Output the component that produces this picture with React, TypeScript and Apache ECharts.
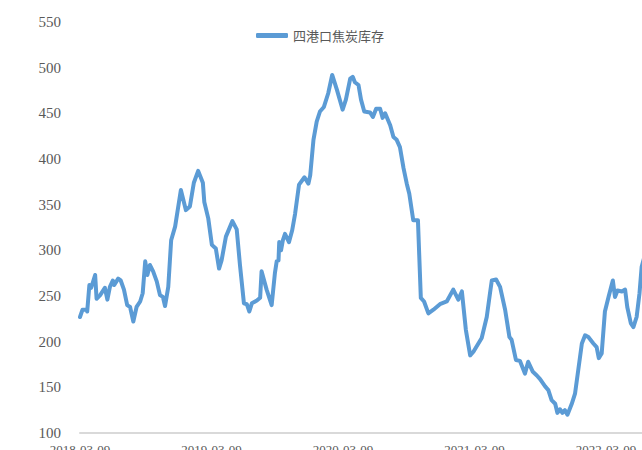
import React, { useEffect, useRef } from "react";
import * as echarts from "echarts";

const seriesName = "四港口焦炭库存";

// days elapsed since the first axis label date
const days = [
  0, 7, 19, 20, 26, 31, 42, 46, 56, 69,
  76, 83, 91, 95, 106, 113, 122, 131, 139, 148,
  157, 167, 174, 181, 187, 194, 203, 213, 222, 230,
  236, 245, 253, 264, 280, 294, 305, 316, 328, 341,
  345, 356, 366, 377, 386, 393, 405, 423, 435, 444,
  455, 463, 470, 477, 491, 500, 504, 518, 532, 541,
  546, 551, 553, 558, 563, 569, 580, 589, 597, 608,
  623, 634, 639, 648, 657, 666, 677, 689, 700, 713,
  729, 738, 750, 757, 763, 773, 780, 789, 805, 813,
  822, 833, 840, 847, 861, 870, 879, 888, 898, 907,
  914, 925, 938, 946, 955, 967, 981, 990, 999, 1018,
  1036, 1050, 1060, 1071, 1083, 1092, 1115, 1129, 1138, 1143,
  1155, 1166, 1180, 1192, 1198, 1210, 1221, 1235, 1244, 1257,
  1268, 1277, 1291, 1300, 1309, 1319, 1325, 1332, 1339, 1346,
  1353, 1365, 1374, 1383, 1393, 1402, 1411, 1425, 1434, 1440,
  1448, 1457, 1467, 1479, 1485, 1492, 1504, 1513, 1519, 1529,
  1536, 1545, 1553, 1559, 1568,
];

const stock = [
  227, 235, 235, 233, 262, 259, 273, 247, 251, 259,
  246, 260, 267, 262, 269, 267, 257, 240, 238, 222,
  238, 244, 253, 288, 273, 284, 277, 266, 251, 249,
  239, 260, 311, 326, 366, 344, 348, 374, 387, 374,
  353, 335, 306, 302, 280, 289, 315, 332, 323, 284,
  242, 241, 233, 242, 245, 248, 277, 257, 240, 275,
  288, 289, 309, 300, 311, 318, 309, 322, 340, 372,
  380, 373, 382, 421, 441, 452, 457, 472, 492, 476,
  454, 465, 488, 490, 484, 481, 465, 452, 451, 446,
  455, 455, 445, 450, 437, 424, 421, 413, 390, 373,
  362, 333, 333, 248, 244, 231, 235, 238, 241, 244,
  257, 246, 255, 213, 185, 189, 204, 227, 253, 267,
  268, 260, 235, 205, 202, 180, 179, 165, 178, 167,
  163, 159, 151, 147, 136, 132, 122, 126, 122, 125,
  120, 132, 143, 169, 198, 207, 205, 198, 194, 182,
  187, 233, 249, 267, 249, 256, 255, 257, 238, 220,
  216, 227, 253, 282, 295,
];

const xTickLabels = ["2018-03-09", "2019-03-09", "2020-03-09", "2021-03-09", "2022-03-09", "2023-03-09"];

export default function App() {
  const ref = useRef<HTMLDivElement>(null);

  useEffect(() => {
    if (!ref.current) return;
    const chart = echarts.init(ref.current, undefined, { renderer: "svg" });
    const data = days.map((d, i) => [d, stock[i]]);
    chart.setOption({
      animation: false,
      backgroundColor: "#ffffff",
      legend: {
        show: true,
        left: 256,
        top: 29,
        padding: 0,
        icon: "roundRect",
        itemWidth: 32,
        itemHeight: 5,
        itemGap: 4,
        textStyle: {
          color: "#595959",
          fontSize: 13,
          fontFamily: "Noto Sans CJK SC",
        },
        data: [seriesName],
      },
      grid: {
        left: 80,
        right: 12.5,
        top: 22,
        bottom: 37,
        containLabel: false,
        outerBoundsMode: "none",
      },
      xAxis: {
        type: "value",
        min: 0,
        max: 1825,
        interval: 365,
        axisLine: { show: true, onZero: false, lineStyle: { color: "#D9D9D9", width: 2 } },
        axisTick: { show: false },
        splitLine: { show: false },
        axisLabel: {
          margin: 10,
          color: "#595959",
          fontSize: 13,
          fontFamily: "Liberation Serif",
          hideOverlap: false,
          formatter: (v: number) => xTickLabels[Math.round(v / 365)] ?? "",
        },
      },
      yAxis: {
        type: "value",
        min: 100,
        max: 550,
        interval: 50,
        axisLine: { show: false },
        axisTick: { show: false },
        splitLine: { show: false },
        axisLabel: {
          margin: 19,
          color: "#595959",
          fontSize: 15,
          fontFamily: "Liberation Serif",
        },
      },
      series: [
        {
          name: seriesName,
          type: "line",
          data,
          symbol: "none",
          smooth: false,
          lineStyle: { color: "#5B9BD5", width: 4, cap: "round", join: "round" },
          itemStyle: { color: "#5B9BD5" },
        },
      ],
    });
    return () => chart.dispose();
  }, []);

  return (
    <div style={{ position: "absolute", left: 0, top: 0, width: 642, height: 450, overflow: "hidden", background: "#fff" }}>
      <div ref={ref} style={{ width: 750, height: 470 }} />
    </div>
  );
}
